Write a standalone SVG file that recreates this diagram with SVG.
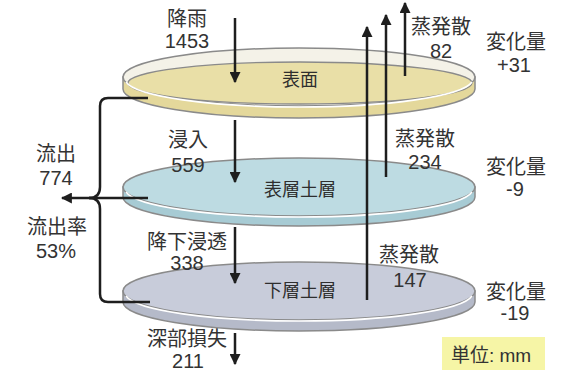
<svg xmlns="http://www.w3.org/2000/svg" width="572" height="372" viewBox="0 0 572 372">
<defs>
<style>
.t{font-family:"Liberation Sans","Noto Sans CJK JP",sans-serif;fill:#333;text-anchor:middle}
.lbl{font-size:20px}
.dl{font-size:18px;fill:#2e2e2e}
.ln{stroke:#1e1e1e;stroke-width:2.5;fill:none}
.edge{stroke:#8a8a8a;stroke-width:1.5}
.hl{stroke:#ffffff;stroke-width:1.6;fill:none}
</style>
<marker id="ah" viewBox="0 0 10 10" refX="9" refY="5" markerWidth="4.4" markerHeight="4.4" orient="auto" markerUnits="strokeWidth">
<path d="M0,0 L10,5 L0,10 Z" fill="#1e1e1e"/>
</marker>
</defs>
<rect width="572" height="372" fill="#ffffff"/>

<g id="disk-bottom">
<path class="edge" d="M123,291 L123,302 A176,29 0 0 0 475,302 L475,291 Z" fill="#b5bac9"/>
<ellipse class="edge" cx="299" cy="291" rx="176" ry="29" fill="#c8ccda"/>
<path class="hl" d="M126,296 A174,28 0 0 0 472,296"/>
<text class="t dl" x="300" y="296.5">下層土層</text>
</g>

<g id="disk-middle">
<path class="edge" d="M123,187 L123,197 A176,29 0 0 0 475,197 L475,187 Z" fill="#a7cbd4"/>
<ellipse class="edge" cx="299" cy="187" rx="176" ry="29" fill="#bddbe2"/>
<path class="hl" d="M126,192 A174,28 0 0 0 472,192"/>
<text class="t dl" x="300" y="195.5">表層土層</text>
</g>

<g id="disk-top">
<path class="edge" d="M123,77 L123,89 A176,29 0 0 0 475,89 L475,77 Z" fill="#e4d89b"/>
<ellipse class="edge" cx="299" cy="77" rx="176" ry="29" fill="#f4f2e8"/>
<ellipse cx="300" cy="83" rx="172" ry="21" fill="#e9dfa7" stroke="#8a8a8a" stroke-width="1.3"/>
<path class="hl" d="M126,82 A174,28 0 0 0 472,82"/>
<text class="t dl" x="300" y="85.5">表面</text>
</g>

<g id="connectors">
<line class="ln" x1="235" y1="18" x2="235" y2="82" marker-end="url(#ah)"/>
<line class="ln" x1="235" y1="120" x2="235" y2="182" marker-end="url(#ah)"/>
<line class="ln" x1="235" y1="227" x2="235" y2="283" marker-end="url(#ah)"/>
<line class="ln" x1="235" y1="333" x2="235" y2="364" marker-end="url(#ah)"/>
<line class="ln" x1="367" y1="300" x2="367" y2="27" marker-end="url(#ah)"/>
<line class="ln" x1="386" y1="177" x2="386" y2="15" marker-end="url(#ah)"/>
<line class="ln" x1="405" y1="76" x2="405" y2="3" marker-end="url(#ah)"/>
<path class="ln" d="M148,98 L108,98 Q100,98 100,106 L100,187 Q100,198 89,198"/>
<path class="ln" d="M89,198 Q100,198 100,209 L100,294 Q100,302 108,302 L150,302"/>
<line class="ln" x1="148" y1="198" x2="62" y2="198" marker-end="url(#ah)"/>
</g>

<g id="labels">
<text class="t lbl" x="187" y="25.5">降雨</text>
<text class="t lbl" x="187" y="48">1453</text>
<text class="t lbl" x="188" y="146.5">浸入</text>
<text class="t lbl" x="188" y="172">559</text>
<text class="t lbl" x="187" y="248.5">降下浸透</text>
<text class="t lbl" x="187" y="270">338</text>
<text class="t lbl" x="187" y="346">深部損失</text>
<text class="t lbl" x="188" y="368">211</text>
<text class="t lbl" x="56" y="160.5">流出</text>
<text class="t lbl" x="56" y="184.5">774</text>
<text class="t lbl" x="57" y="233.5">流出率</text>
<text class="t lbl" x="56" y="258">53%</text>
<text class="t lbl" x="441" y="33.5">蒸発散</text>
<text class="t lbl" x="441" y="57.5">82</text>
<text class="t lbl" x="425" y="145.5">蒸発散</text>
<text class="t lbl" x="425" y="168.5">234</text>
<text class="t lbl" x="409" y="261.5">蒸発散</text>
<text class="t lbl" x="410" y="287">147</text>
<text class="t lbl" x="516" y="48.5">変化量</text>
<text class="t lbl" x="514" y="72">+31</text>
<text class="t lbl" x="516" y="173.5">変化量</text>
<text class="t lbl" x="515" y="196">-9</text>
<text class="t lbl" x="516" y="298.5">変化量</text>
<text class="t lbl" x="515" y="320">-19</text>
</g>

<g id="legend">
<rect x="442" y="337" width="103" height="33" fill="#f6f5a6"/>
<text class="t" style="font-size:19px" x="491" y="362">単位: mm</text>
</g>
</svg>
